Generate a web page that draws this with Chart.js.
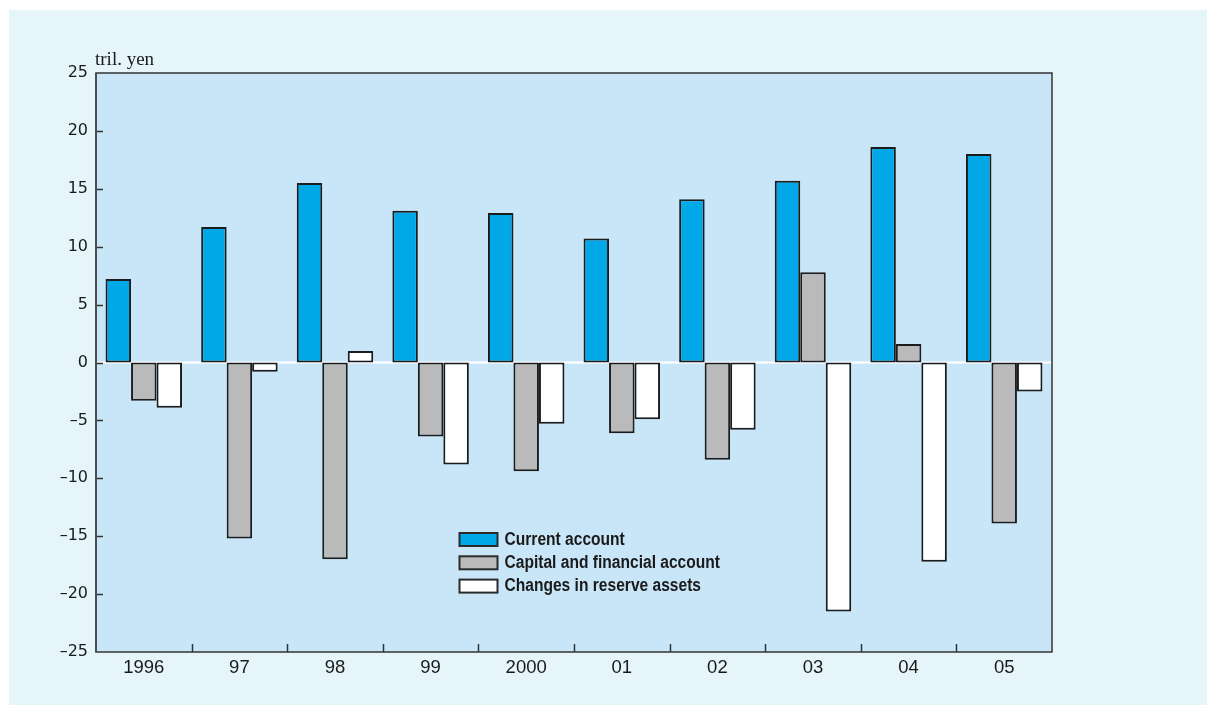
<!DOCTYPE html>
<html>
<head>
<meta charset="utf-8">
<title>Balance of payments</title>
<script src="https://cdn.jsdelivr.net/npm/chart.js@4.4.1/dist/chart.umd.min.js"></script>
<style>
    html, body { margin: 0; padding: 0; background: #ffffff; }
    .panel {
        position: absolute; left: 9px; top: 10px; right: 0; bottom: 0;
        background: #e5f5f9;
    }
    #bopChart { position: absolute; left: 0; top: 0; }
</style>
</head>
<body>
<div class="panel"></div>
<canvas id="bopChart" width="1207" height="705"></canvas>

<script>
// fiscal years, trillions of yen
const years = ["1996", "97", "98", "99", "2000", "01", "02", "03", "04", "05"];
const currentAccount = [7.2, 11.7, 15.5, 13.1, 12.9, 10.7, 14.1, 15.7, 18.6, 18.0];
const capitalFinancial = [-3.3, -15.2, -17.0, -6.4, -9.4, -6.1, -8.4, 7.8, 1.6, -13.9];
const reserveChanges = [-3.9, -0.8, 1.0, -8.8, -5.3, -4.9, -5.8, -21.5, -17.2, -2.5];

const yTicks = [-25, -20, -15, -10, -5, 0, 5, 10, 15, 20, 25];
const unitLabel = "tril. yen";

const PLOT_BG = "#c8e6f8";
const FRAME = "#333333";

// light blue plot background and the white zero line, both under the bars
const plotBackground = {
    id: "plotBackground",
    beforeDatasetsDraw(chart) {
        const { ctx, chartArea: a, scales } = chart;
        ctx.save();
        ctx.fillStyle = PLOT_BG;
        ctx.fillRect(a.left, a.top, a.right - a.left, a.bottom - a.top);
        const y0 = scales.y.getPixelForValue(0);
        ctx.strokeStyle = "#ffffff";
        ctx.lineWidth = 2;
        ctx.beginPath();
        ctx.moveTo(a.left, y0);
        ctx.lineTo(a.right, y0);
        ctx.stroke();
        ctx.restore();
    }
};

// frame, inward tick marks, unit label and legend inside the plot
const frameAndLegend = {
    id: "frameAndLegend",
    afterDatasetsDraw(chart) {
        const { ctx, chartArea: a, scales } = chart;
        ctx.save();

        // inward ticks on the y axis
        ctx.strokeStyle = FRAME;
        ctx.lineWidth = 1.5;
        yTicks.forEach(v => {
            if (v === yTicks[0] || v === yTicks[yTicks.length - 1]) return;
            const y = Math.round(scales.y.getPixelForValue(v)) + 0.5;
            ctx.beginPath();
            ctx.moveTo(a.left, y);
            ctx.lineTo(a.left + 7, y);
            ctx.stroke();
        });

        // inward ticks between categories
        for (let i = 0; i < years.length - 1; i++) {
            const x = Math.round((scales.x.getPixelForValue(i) + scales.x.getPixelForValue(i + 1)) / 2) + 0.5;
            ctx.beginPath();
            ctx.moveTo(x, a.bottom);
            ctx.lineTo(x, a.bottom - 8);
            ctx.stroke();
        }

        // plot frame
        ctx.strokeStyle = FRAME;
        ctx.lineWidth = 1.5;
        ctx.strokeRect(a.left, a.top, a.right - a.left, a.bottom - a.top);
        ctx.strokeStyle = "#4d4d4d";
        ctx.lineWidth = 2;
        ctx.beginPath();
        ctx.moveTo(a.left, a.top);
        ctx.lineTo(a.left, a.bottom);
        ctx.stroke();

        // unit label above the y axis
        ctx.fillStyle = "#1a1a1a";
        ctx.font = "19px 'Liberation Serif', serif";
        ctx.textAlign = "left";
        ctx.textBaseline = "alphabetic";
        ctx.fillText(unitLabel, a.left - 1, a.top - 8);

        // legend, condensed bold text
        const lx = a.left + 363.5;
        const ly = a.top + 460;
        ctx.font = "bold 17.5px 'Liberation Sans', Arial, sans-serif";
        ctx.textBaseline = "middle";
        chart.data.datasets.forEach((ds, i) => {
            const y = ly + i * 23.3;
            ctx.fillStyle = ds.backgroundColor;
            ctx.fillRect(lx, y, 38, 13);
            ctx.strokeStyle = "#2a2a2a";
            ctx.lineWidth = 2;
            ctx.strokeRect(lx, y, 38, 13);
            ctx.save();
            ctx.translate(lx + 45, y + 7);
            ctx.scale(0.89, 1);
            ctx.fillStyle = "#1a1a1a";
            ctx.fillText(ds.label, 0, 0);
            ctx.restore();
        });

        ctx.restore();
    }
};

const barStyle = {
    borderColor: "#1c1c1c",
    borderWidth: 2,
    borderSkipped: false,
    inflateAmount: 0,
    barPercentage: 1.0,
    categoryPercentage: 0.8
};

new Chart(document.getElementById("bopChart"), {
    type: "bar",
    data: {
        labels: years,
        datasets: [
            { label: "Current account", data: currentAccount, backgroundColor: "#00a8e8", ...barStyle },
            { label: "Capital and financial account", data: capitalFinancial, backgroundColor: "#bababa", ...barStyle },
            { label: "Changes in reserve assets", data: reserveChanges, backgroundColor: "#ffffff", ...barStyle }
        ]
    },
    options: {
        responsive: false,
        animation: false,
        devicePixelRatio: 1,
        layout: { padding: { left: 0, right: 155, top: 73, bottom: 0 } },
        plugins: {
            legend: { display: false },
            tooltip: { enabled: false }
        },
        scales: {
            x: {
                grid: { display: false, drawTicks: false },
                border: { display: false },
                ticks: {
                    color: "#1a1a1a",
                    padding: 5,
                    font: { family: "'Liberation Sans', Arial, sans-serif", size: 18.5 }
                },
                afterFit(scale) { scale.height = 53; }
            },
            y: {
                min: -25,
                max: 25,
                grid: { display: false, drawTicks: false },
                border: { display: false },
                afterBuildTicks(scale) { scale.ticks = yTicks.map(v => ({ value: v })); },
                ticks: {
                    color: "#1a1a1a",
                    padding: 8,
                    font: { family: "'DejaVu Sans', sans-serif", size: 16 },
                    callback: v => (v < 0 ? "\u2013" + Math.abs(v) : String(v))
                },
                afterFit(scale) { scale.width = 96; }
            }
        }
    },
    plugins: [plotBackground, frameAndLegend]
});
</script>
</body>
</html>
